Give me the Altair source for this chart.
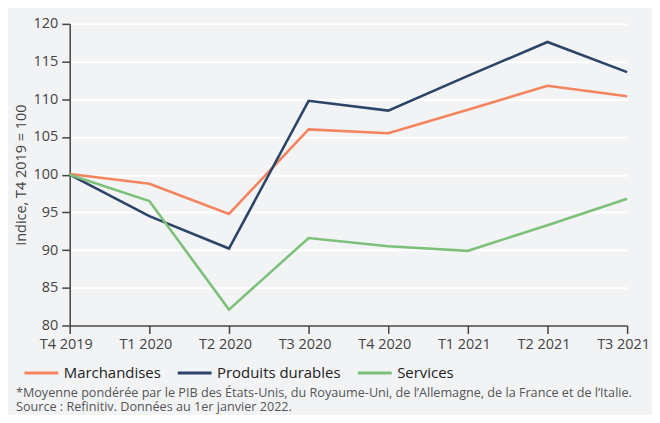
import altair as alt
import pandas as pd

quarters = ["T4 2019", "T1 2020", "T2 2020", "T3 2020", "T4 2020", "T1 2021", "T2 2021", "T3 2021"]
marchandises = [100.1, 98.8, 94.8, 106.0, 105.5, 108.6, 111.8, 110.4]
durables = [100.0, 94.5, 90.2, 109.8, 108.5, 113.1, 117.6, 113.6]
services = [100.0, 96.5, 82.1, 91.6, 90.5, 89.9, 93.3, 96.8]
series = ["Marchandises", "Produits durables", "Services"]
colors = ["#f4845f", "#2b4468", "#7cc07a"]
footnotes = [
    "*Moyenne pondérée par le PIB des États-Unis, du Royaume-Uni, de l\u2019Allemagne, de la France et de l\u2019Italie.",
    "Source : Refinitiv. Données au 1er janvier 2022.",
]

rows = []
for name, vals in zip(series, [marchandises, durables, services]):
    for q, v in zip(quarters, vals):
        rows.append({"quarter": q, "value": v, "series": name})
df = pd.DataFrame(rows)

FONT = "Open Sans"

lines = alt.Chart(df).mark_line(strokeWidth=2.6).encode(
    x=alt.X("quarter:N", sort=quarters, scale=alt.Scale(padding=0),
            axis=alt.Axis(title=None, labelAngle=0, grid=False, domainColor="#444444",
                          domainWidth=1.5, tickColor="#444444", tickWidth=1.5, tickSize=8,
                          labelFontSize=14.5, labelColor="#444444", labelPadding=4,
                          labelOffset=-4, labelFont=FONT)),
    y=alt.Y("value:Q", scale=alt.Scale(domain=[80, 120], nice=False, zero=False),
            axis=alt.Axis(title="Indice, T4 2019 = 100", values=list(range(80, 121, 5)),
                          grid=True, gridColor="#ffffff", gridWidth=2,
                          domainColor="#444444", domainWidth=1.5, tickColor="#444444",
                          tickWidth=1.5, tickSize=8, labelFontSize=14.5, labelColor="#444444",
                          labelPadding=4, labelFont=FONT, titleFont=FONT, titleFontSize=14.5,
                          titleFontWeight="normal", titleColor="#444444", titlePadding=5)),
    color=alt.Color("series:N", scale=alt.Scale(domain=series, range=colors),
                    legend=alt.Legend(title=None, orient="none", direction="horizontal",
                                      legendX=-47, legendY=332, symbolType="stroke",
                                      symbolSize=1156, symbolStrokeWidth=3,
                                      labelFontSize=15, labelColor="#222222", labelFont=FONT,
                                      labelOffset=4, columnPadding=10)),
)

notes = alt.Chart(pd.DataFrame({"text": ["\n".join(footnotes)]})).mark_text(
    align="left", baseline="alphabetic", fontSize=12.7, color="#555555", font=FONT,
    lineBreak="\n", lineHeight=14
).encode(text="text:N", x=alt.value(-54), y=alt.value(375))

chart = alt.layer(lines, notes).properties(
    width=560, height=303,
    autosize=alt.AutoSizeParams(type="none"),
    padding={"left": 62, "top": 15, "right": 25, "bottom": 89},
    background="#f2f3f5",
).configure_view(stroke=None)

chart.save("out.html", embed_options={"renderer": "svg", "actions": False})
